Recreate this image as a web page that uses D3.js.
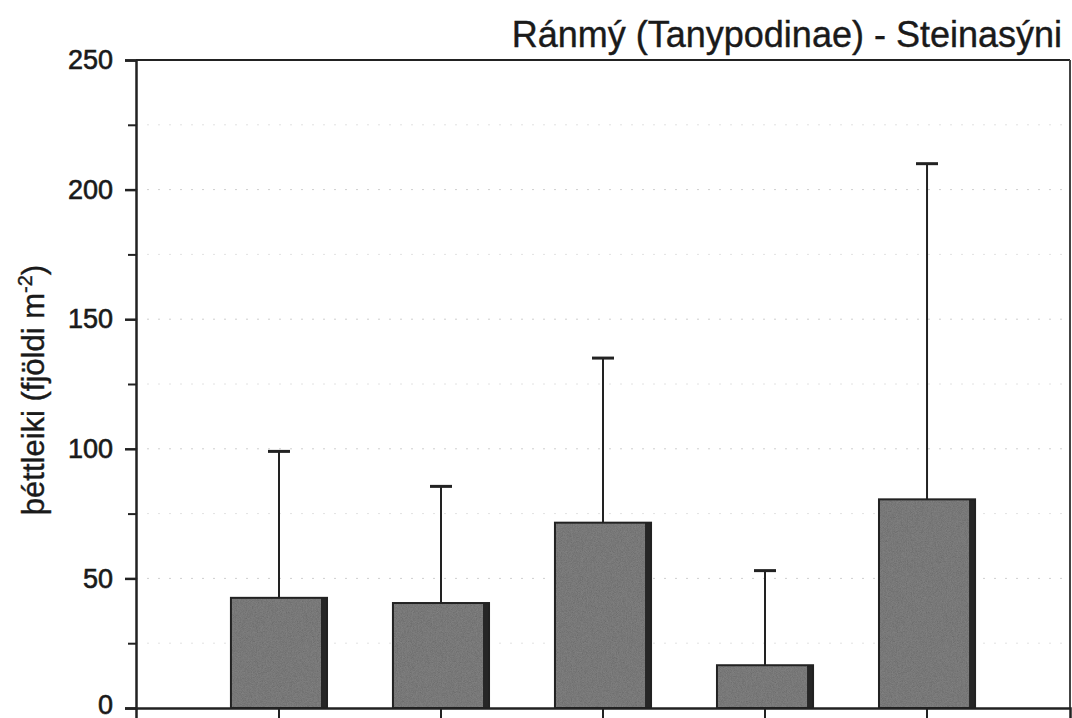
<!DOCTYPE html>
<html>
<head>
<meta charset="utf-8">
<script src="https://cdn.jsdelivr.net/npm/d3@7"></script>
<style>
  html, body { margin: 0; padding: 0; background: #fff; }
  svg { display: block; }
  text { font-family: Arial, "Liberation Sans", Helvetica, sans-serif; fill: #1a1a1a; }
</style>
</head>
<body>
<svg id="chart" width="1072" height="718"></svg>
<script>
// ---- data ----
const categories = ["1", "2", "3", "4", "5"];
const means = [42.5, 40.5, 71.5, 16.5, 80.5];
const upperErr = [56.5, 45, 63.5, 36.5, 129.5];
const yTicks = [0, 50, 100, 150, 200, 250];
const yMinorTicks = [25, 75, 125, 175, 225];
const gridValues = [25, 50, 75, 100, 125, 150, 175, 200, 225];
const titleText = "Ránmý (Tanypodinae) - Steinasýni";

// ---- layout ----
const W = 1072, H = 718;
const m = { left: 136, right: 2, top: 60, bottom: 10 };
const svg = d3.select("#chart");

const x = d3.scaleBand()
  .domain(categories)
  .range([m.left, W - m.right])
  .paddingInner(0.407)
  .paddingOuter(0.586);

const y = d3.scaleLinear().domain([0, 250]).range([H - m.bottom, m.top]);

// noise texture filter for bars
const defs = svg.append("defs");
const f = defs.append("filter").attr("id", "grain").attr("x", 0).attr("y", 0).attr("width", 1).attr("height", 1);
f.append("feTurbulence").attr("type", "fractalNoise").attr("baseFrequency", 1.2).attr("numOctaves", 2).attr("seed", 3).attr("result", "noise");
f.append("feColorMatrix").attr("in", "noise").attr("type", "saturate").attr("values", 0).attr("result", "gray");
f.append("feComponentTransfer").attr("in", "gray").attr("result", "g2")
  .call(s => {
    s.append("feFuncR").attr("type", "linear").attr("slope", 0.8).attr("intercept", 0.0);
    s.append("feFuncG").attr("type", "linear").attr("slope", 0.8).attr("intercept", 0.0);
    s.append("feFuncB").attr("type", "linear").attr("slope", 0.8).attr("intercept", 0.0);
    s.append("feFuncA").attr("type", "linear").attr("slope", 0).attr("intercept", 1);
  });
f.append("feComposite").attr("in", "g2").attr("in2", "SourceGraphic").attr("operator", "in");

// grid lines
svg.append("g").selectAll("line").data(gridValues).join("line")
  .attr("x1", m.left).attr("x2", W - m.right)
  .attr("y1", d => y(d)).attr("y2", d => y(d))
  .attr("stroke", d => d % 50 === 0 ? "#cfcfcf" : "#e2e2e2")
  .attr("stroke-width", 1)
  .attr("stroke-dasharray", "2,9");

// bars
const bars = svg.append("g");
bars.selectAll("rect.bar").data(categories).join("rect")
  .attr("class", "bar")
  .attr("x", d => x(d))
  .attr("y", (d, i) => y(means[i]))
  .attr("width", x.bandwidth())
  .attr("height", (d, i) => y(0) - y(means[i]))
  .attr("fill", "#686868");
bars.selectAll("rect.grain").data(categories).join("rect")
  .attr("class", "grain")
  .attr("x", d => x(d))
  .attr("y", (d, i) => y(means[i]))
  .attr("width", x.bandwidth())
  .attr("height", (d, i) => y(0) - y(means[i]))
  .attr("fill", "#686868")
  .attr("filter", "url(#grain)")
  .attr("opacity", 0.25);
bars.selectAll("rect.shade").data(categories).join("rect")
  .attr("class", "shade")
  .attr("x", d => x(d) + x.bandwidth() - 6)
  .attr("y", (d, i) => y(means[i]))
  .attr("width", 6)
  .attr("height", (d, i) => y(0) - y(means[i]))
  .attr("fill", "#262626");
bars.selectAll("rect.outline").data(categories).join("rect")
  .attr("class", "outline")
  .attr("x", d => x(d))
  .attr("y", (d, i) => y(means[i]))
  .attr("width", x.bandwidth())
  .attr("height", (d, i) => y(0) - y(means[i]))
  .attr("fill", "none")
  .attr("stroke", "#222")
  .attr("stroke-width", 2);

// error bars
const eb = svg.append("g").attr("stroke", "#222").attr("stroke-width", 2);
eb.selectAll("line.v").data(categories).join("line")
  .attr("x1", d => x(d) + x.bandwidth() / 2)
  .attr("x2", d => x(d) + x.bandwidth() / 2)
  .attr("y1", (d, i) => y(means[i]))
  .attr("y2", (d, i) => y(means[i] + upperErr[i]));
eb.selectAll("line.cap").data(categories).join("line")
  .attr("x1", d => x(d) + x.bandwidth() / 2 - 11)
  .attr("x2", d => x(d) + x.bandwidth() / 2 + 11)
  .attr("y1", (d, i) => y(means[i] + upperErr[i]))
  .attr("y2", (d, i) => y(means[i] + upperErr[i]))
  .attr("stroke-width", 3);

// frame (top & right)
svg.append("line").attr("x1", m.left).attr("x2", W - m.right)
  .attr("y1", y(250)).attr("y2", y(250)).attr("stroke", "#222").attr("stroke-width", 2);
svg.append("line").attr("x1", W - m.right).attr("x2", W - m.right)
  .attr("y1", y(250)).attr("y2", y(0)).attr("stroke", "#444").attr("stroke-width", 2);

// y axis
const yAxis = d3.axisLeft(y).tickValues(yTicks).tickSize(11).tickPadding(12).tickFormat(d3.format("d"));
const gy = svg.append("g").attr("transform", `translate(${m.left},0)`).call(yAxis);
gy.select(".domain").attr("stroke", "#222").attr("stroke-width", 2.5);
gy.selectAll(".tick line").attr("stroke", "#222").attr("stroke-width", 2.5);
gy.selectAll(".tick text").attr("font-size", 27).attr("fill", "#1a1a1a")
  .attr("stroke", "#1a1a1a").attr("stroke-width", 0.6)
  .attr("font-family", "Arial, 'Liberation Sans', sans-serif");
gy.selectAll(".tick").filter(d => d === 0).select("text").attr("dy", "0.2em");
const yMinor = d3.axisLeft(y).tickValues(yMinorTicks).tickSize(8).tickFormat("");
const gym = svg.append("g").attr("transform", `translate(${m.left},0)`).call(yMinor);
gym.select(".domain").remove();
gym.selectAll(".tick line").attr("stroke", "#222").attr("stroke-width", 2);

// x axis
const xAxis = d3.axisBottom(x).tickSize(12).tickFormat("");
const gx = svg.append("g").attr("transform", `translate(0,${y(0)})`).call(xAxis);
gx.select(".domain").attr("stroke", "#222").attr("stroke-width", 2.5);
gx.selectAll(".tick line").attr("stroke", "#222").attr("stroke-width", 2);

// y label
svg.append("text")
  .attr("transform", `translate(44, ${ (y(0) + y(250)) / 2 + 6 }) rotate(-90)`)
  .attr("text-anchor", "middle")
  .attr("font-size", 31)
  .attr("stroke", "#1a1a1a").attr("stroke-width", 0.4)
  .html('þéttleiki (fjöldi m<tspan dy="-12" font-size="20">-2</tspan><tspan dy="12">)</tspan>');

// title
svg.append("text")
  .attr("x", 1062).attr("y", 47)
  .attr("text-anchor", "end")
  .attr("font-size", 36)
  .attr("stroke", "#1a1a1a").attr("stroke-width", 0.4)
  .text(titleText);
</script>
</body>
</html>
